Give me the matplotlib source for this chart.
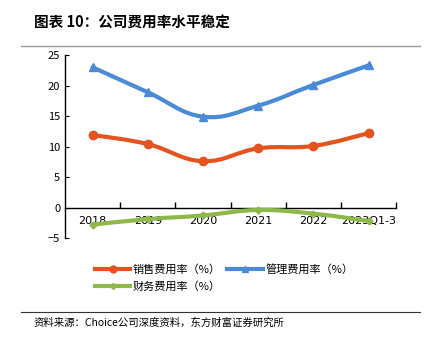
import numpy as np
import matplotlib
matplotlib.use('Agg')
import matplotlib.pyplot as plt
from matplotlib.path import Path
from matplotlib.patches import PathPatch
from matplotlib.lines import Line2D

plt.rcParams['font.family'] = ['Noto Sans CJK SC', 'DejaVu Sans']

# 数据
years = ['2018', '2019', '2020', '2021', '2022', '2023Q1-3']
sales = [11.9, 10.4, 7.6, 9.7, 10.1, 12.2]
admin = [23.0, 18.9, 14.9, 16.7, 20.1, 23.3]
finance = [-2.8, -1.9, -1.3, -0.4, -1.0, -2.2]
yticks = [-5, 0, 5, 10, 15, 20, 25]

c_sales = '#E5531F'
c_admin = '#4A8AD6'
c_fin = '#8DB84A'


def smooth_path(x, y, t=0.2):
    # 平滑曲线 (三次贝塞尔, 经过每个数据点)
    x = np.asarray(x, float)
    y = np.asarray(y, float)
    n = len(x)
    verts = [(x[0], y[0])]
    codes = [Path.MOVETO]
    for i in range(n - 1):
        p0 = i - 1 if i > 0 else i
        p3 = i + 2 if i + 2 < n else i + 1
        c1 = (x[i] + (x[i + 1] - x[p0]) * t, y[i] + (y[i + 1] - y[p0]) * t)
        c2 = (x[i + 1] - (x[p3] - x[i]) * t, y[i + 1] - (y[p3] - y[i]) * t)
        verts += [c1, c2, (x[i + 1], y[i + 1])]
        codes += [Path.CURVE4] * 3
    return Path(verts, codes)


fig = plt.figure(figsize=(4.25, 3.42), dpi=100)
ax = fig.add_axes([0.153, 0.304, 0.779, 0.535])

xs = np.arange(len(years))
for vals, col, mk, ms in [(sales, c_sales, 'o', 6), (admin, c_admin, '^', 6), (finance, c_fin, 'D', 3.5)]:
    ax.add_patch(PathPatch(smooth_path(xs, vals), fill=False, edgecolor=col, lw=3, capstyle='round', zorder=3))
    ax.plot(xs, vals, ls='none', marker=mk, ms=ms, color=col, zorder=4)

ax.set_xlim(-0.5, len(years) - 0.5)
ax.set_ylim(-5, 25)
ax.set_yticks(yticks)
ax.set_xticks(xs)
ax.set_xticklabels([])
ax.set_xticks(np.arange(len(years)) + 0.5, minor=True)
ax.tick_params(axis='x', which='major', length=0)
ax.tick_params(axis='x', which='minor', direction='out', length=4, width=1, top=False, bottom=True)
ax.tick_params(axis='y', direction='in', length=3, labelsize=8)
for i, lab in enumerate(years):
    ax.text(i, -1.4, lab, ha='center', va='top', fontsize=8, family='DejaVu Sans', zorder=2)

for s in ['top', 'right']:
    ax.spines[s].set_visible(False)
ax.spines['bottom'].set_position(('data', 0))
ax.spines['bottom'].set_linewidth(1)
ax.spines['left'].set_linewidth(1)
# 刻度朝上
ax.tick_params(axis='x', which='minor', direction='in')

handles = [
    Line2D([], [], color=c_sales, lw=3, marker='o', ms=5),
    Line2D([], [], color=c_fin, lw=3, marker='D', ms=3),
    Line2D([], [], color=c_admin, lw=3, marker='^', ms=4),
]
labels = ['销售费用率（%）', '财务费用率（%）', '管理费用率（%）']
fig.legend(handles, labels, loc='upper left', bbox_to_anchor=(0.21, 0.245), ncol=2,
           frameon=False, fontsize=8, handlelength=3.2, handletextpad=0.2,
           columnspacing=0.6, labelspacing=0.6, borderpad=0)

fig.text(0.08, 0.935, '图表 10：公司费用率水平稳定', fontsize=10.5, fontweight='bold', va='center')
fig.add_artist(Line2D([0.05, 0.988], [0.865, 0.865], color='#999999', lw=1))
fig.add_artist(Line2D([0.05, 0.988], [0.088, 0.088], color='#333333', lw=0.8))
fig.text(0.08, 0.058, '资料来源：Choice公司深度资料，东方财富证券研究所', fontsize=7.5, va='center')

fig.savefig('out.png', dpi=100)
